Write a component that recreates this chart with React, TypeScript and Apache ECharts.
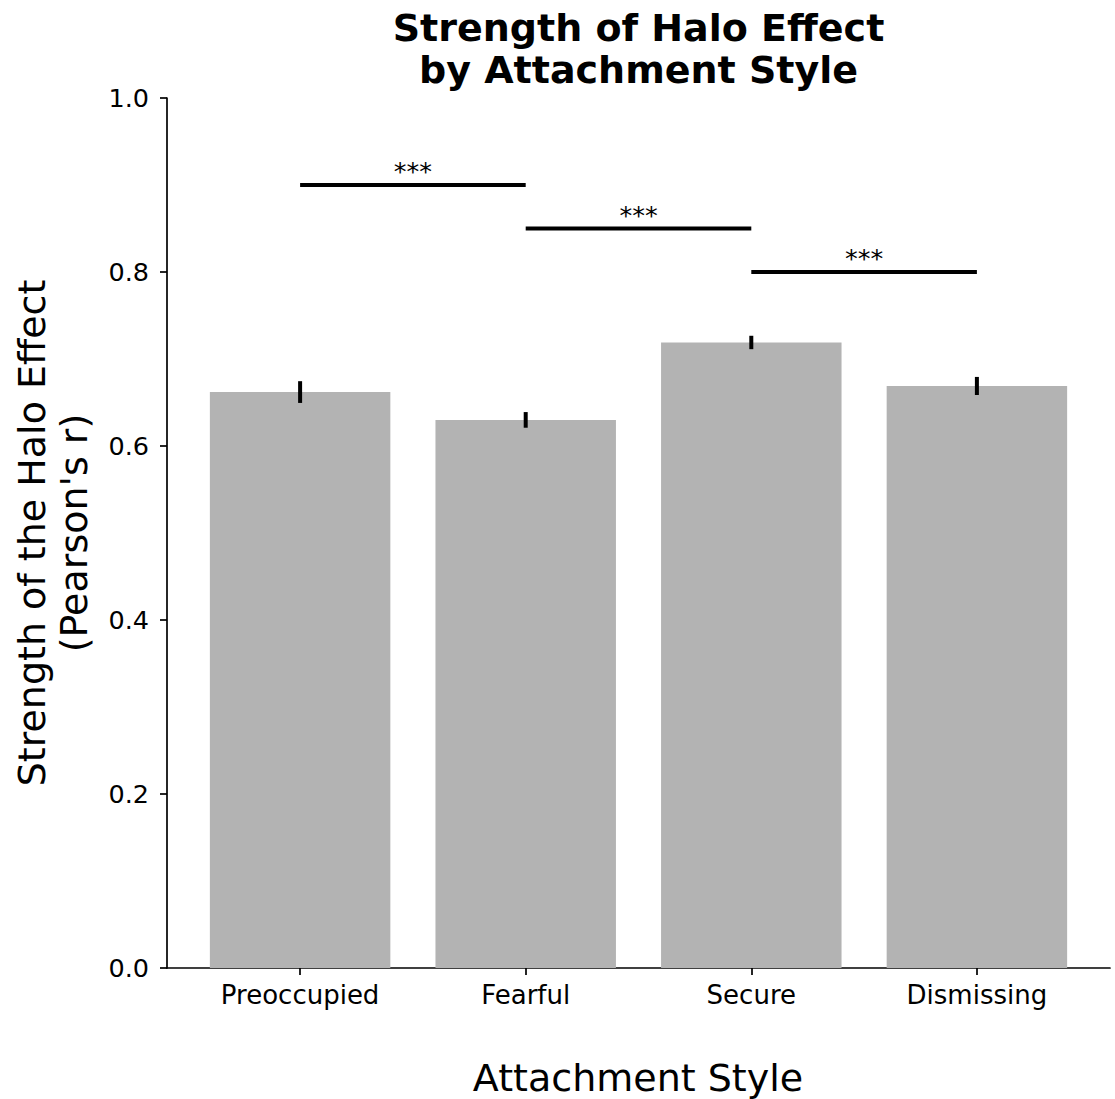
import React, { useEffect, useRef } from "react";
import * as echarts from "echarts";

const categories = ["Preoccupied", "Fearful", "Secure", "Dismissing"];
const means = [0.662, 0.63, 0.719, 0.669];
const errors = [0.0125, 0.009, 0.0077, 0.0104];
const comparisonFrom = [0, 1, 2];
const comparisonTo = [1, 2, 3];
const comparisonHeights = [0.9, 0.85, 0.8];
const comparisonLabels = ["***", "***", "***"];
const categoryPositions = [0, 1, 2, 3];

const FONT = "DejaVu Sans";

export default function App() {
  const ref = useRef<HTMLDivElement>(null);
  useEffect(() => {
    document.body.style.margin = "0";
    const chart = echarts.init(ref.current!, null, { renderer: "svg" });
    const barData = categoryPositions.map((p, i) => [p, means[i]]);
    const errData = categoryPositions.map((p, i) => [p, means[i] - errors[i], means[i] + errors[i]]);
    const sigData = comparisonFrom.map((f, i) => [f, comparisonTo[i], comparisonHeights[i]]);
    chart.setOption({
      animation: false,
      grid: { left: 167, right: 5, top: 98, bottom: 131, containLabel: false },
      xAxis: {
        type: "value",
        min: -0.59,
        max: 3.59,
        splitLine: { show: false },
        axisLine: { show: true, onZero: false, lineStyle: { color: "#000", width: 1.7 } },
        axisTick: { show: true, customValues: categoryPositions, length: 7, lineStyle: { color: "#000", width: 1.7 } },
        axisLabel: {
          customValues: categoryPositions,
          formatter: (v: number) => categories[Math.round(v)] ?? "",
          fontSize: 26,
          fontFamily: FONT,
          color: "#000",
          margin: 14,
        },
      },
      yAxis: {
        type: "value",
        min: 0,
        max: 1,
        interval: 0.2,
        splitLine: { show: false },
        axisLine: { show: true, onZero: false, lineStyle: { color: "#000", width: 1.7 } },
        axisTick: { show: true, length: 7, lineStyle: { color: "#000", width: 1.7 } },
        axisLabel: {
          formatter: (v: number) => v.toFixed(1),
          fontSize: 25.5,
          fontFamily: FONT,
          color: "#000",
          margin: 18,
        },
      },
      series: [
        {
          type: "custom",
          data: barData,
          encode: { x: 0, y: 1 },
          renderItem: (params: any, api: any) => {
            const x = api.value(0);
            const y = api.value(1);
            const p1 = api.coord([x - 0.4, y]);
            const p2 = api.coord([x + 0.4, 0]);
            return {
              type: "rect",
              shape: { x: p1[0], y: p1[1], width: p2[0] - p1[0], height: p2[1] - p1[1] },
              style: { fill: "#b3b3b3" },
            };
          },
        },
        {
          type: "custom",
          data: errData,
          encode: { x: 0, y: [1, 2] },
          renderItem: (params: any, api: any) => {
            const x = api.value(0);
            const lo = api.coord([x, api.value(1)]);
            const hi = api.coord([x, api.value(2)]);
            return {
              type: "line",
              shape: { x1: lo[0], y1: lo[1], x2: hi[0], y2: hi[1] },
              style: { stroke: "#000", lineWidth: 4 },
            };
          },
        },
        {
          type: "custom",
          data: sigData,
          clip: false,
          encode: { x: [0, 1], y: 2 },
          renderItem: (params: any, api: any) => {
            const a = api.coord([api.value(0), api.value(2)]);
            const b = api.coord([api.value(1), api.value(2)]);
            return {
              type: "group",
              children: [
                {
                  type: "line",
                  shape: { x1: a[0], y1: a[1], x2: b[0], y2: b[1] },
                  style: { stroke: "#000", lineWidth: 4 },
                },
                {
                  type: "text",
                  x: (a[0] + b[0]) / 2,
                  y: a[1] - 14,
                  style: {
                    text: comparisonLabels[params.dataIndex],
                    fontSize: 25.5,
                    fontFamily: FONT,
                    fill: "#000",
                    align: "center",
                    verticalAlign: "middle",
                  },
                },
              ],
            };
          },
        },
      ],
      graphic: [
        {
          type: "text",
          x: 638.5,
          y: 49,
          style: {
            text: "Strength of Halo Effect\nby Attachment Style",
            fontSize: 38,
            fontWeight: "bold",
            fontFamily: FONT,
            fill: "#000",
            align: "center",
            verticalAlign: "middle",
            lineHeight: 42,
          },
        },
        {
          type: "text",
          x: 53,
          y: 533,
          rotation: Math.PI / 2,
          style: {
            text: "Strength of the Halo Effect\n(Pearson's r)",
            fontSize: 38,
            fontFamily: FONT,
            fill: "#000",
            align: "center",
            verticalAlign: "middle",
            lineHeight: 42,
          },
        },
        {
          type: "text",
          x: 638,
          y: 1078,
          style: {
            text: "Attachment Style",
            fontSize: 38,
            fontFamily: FONT,
            fill: "#000",
            align: "center",
            verticalAlign: "middle",
            lineHeight: 36,
          },
        },
      ],
    });
    return () => chart.dispose();
  }, []);
  return <div ref={ref} style={{ width: 1115, height: 1099 }} />;
}
